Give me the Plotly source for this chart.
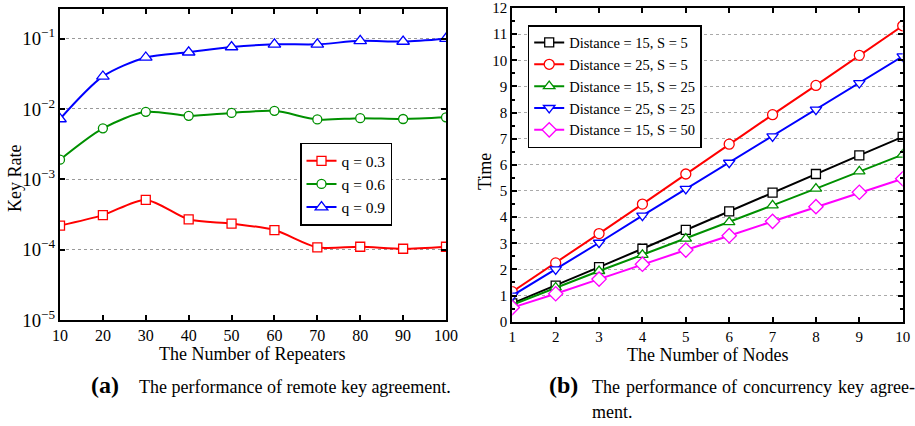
import plotly.graph_objects as go

# ---- Panel (a) data ----
repeaters = [10, 20, 30, 40, 50, 60, 70, 80, 90, 100]
rate_q03 = [2.2e-4, 3.1e-4, 5.1e-4, 2.7e-4, 2.35e-4, 1.9e-4, 1.08e-4, 1.1e-4, 1.03e-4, 1.1e-4]
rate_q06 = [1.9e-3, 5.3e-3, 9.1e-3, 8.0e-3, 8.8e-3, 9.4e-3, 7.1e-3, 7.4e-3, 7.2e-3, 7.6e-3]
rate_q09 = [7.2e-3, 0.029, 0.054, 0.064, 0.076, 0.083, 0.083, 0.093, 0.091, 0.1]
q_labels = ["q = 0.3", "q = 0.6", "q = 0.9"]

# ---- Panel (b) data ----
nodes = [1, 2, 3, 4, 5, 6, 7, 8, 9, 10]
time_d15_s5 = [0.70, 1.38, 2.09, 2.79, 3.51, 4.22, 4.94, 5.65, 6.36, 7.07]
time_d25_s5 = [1.15, 2.25, 3.37, 4.50, 5.65, 6.79, 7.92, 9.04, 10.19, 11.32]
time_d15_s25 = [0.65, 1.31, 1.94, 2.56, 3.18, 3.81, 4.45, 5.09, 5.75, 6.39]
time_d25_s25 = [1.00, 2.00, 3.02, 4.06, 5.08, 6.08, 7.09, 8.11, 9.13, 10.15]
time_d15_s50 = [0.54, 1.07, 1.63, 2.20, 2.74, 3.29, 3.84, 4.40, 4.95, 5.47]
b_labels = ["Distance = 15, S = 5", "Distance = 25, S = 5", "Distance = 15, S = 25",
            "Distance = 25, S = 25", "Distance = 15, S = 50"]

FONT = "Liberation Serif, Times New Roman, serif"
W, H = 915, 426
GREEN = "#009000"

fig = go.Figure()

def mk(symbol, color, size):
    return dict(symbol=symbol, size=size, color="white", line=dict(color=color, width=1.3))

# panel (a)
for ys, name, sym, col, sz in [
    (rate_q03, q_labels[0], "square", "#ff0000", 9),
    (rate_q06, q_labels[1], "circle", GREEN, 9),
    (rate_q09, q_labels[2], "triangle-up", "#0000ff", 11),
]:
    fig.add_trace(go.Scatter(x=repeaters, y=ys, name=name, mode="lines+markers",
                             line=dict(color=col, width=2, shape="spline", smoothing=0.8),
                             marker=mk(sym, col, sz), xaxis="x", yaxis="y", legend="legend"))

# panel (b)
for ys, name, sym, col, sz in [
    (time_d15_s5, b_labels[0], "square", "#000000", 9),
    (time_d25_s5, b_labels[1], "circle", "#ff0000", 10),
    (time_d15_s25, b_labels[2], "triangle-up", GREEN, 10),
    (time_d25_s25, b_labels[3], "triangle-down", "#0000ff", 10),
    (time_d15_s50, b_labels[4], "diamond", "#ff00ff", 11),
]:
    fig.add_trace(go.Scatter(x=nodes, y=ys, name=name, mode="lines+markers",
                             line=dict(color=col, width=2),
                             marker=mk(sym, col, sz), xaxis="x2", yaxis="y2", legend="legend2"))

def axis_common(size):
    return dict(showline=True, linecolor="black", linewidth=2, mirror="ticks",
                ticks="inside", ticklen=5, tickwidth=2, tickcolor="black",
                tickfont=dict(family=FONT, size=size, color="black"),
                zeroline=False, automargin=False)

fig.update_layout(
    width=W, height=H,
    margin=dict(l=0, r=0, t=0, b=0),
    paper_bgcolor="white", plot_bgcolor="white",
    font=dict(family=FONT, color="black"),
    xaxis=dict(domain=[60 / W, 446 / W], range=[10, 100], dtick=10, tick0=10,
               showgrid=False, anchor="y", **axis_common(16)),
    yaxis=dict(domain=[1 - 320 / H, 1 - 9.3 / H], type="log", range=[-5, -0.583], dtick=1,
               exponentformat="power", showgrid=True, gridcolor="#999999", griddash="dot",
               gridwidth=1, anchor="x", **axis_common(15)),
    xaxis2=dict(domain=[512.3 / W, 902.7 / W], range=[1, 10], dtick=1, tick0=1,
                showgrid=False, anchor="y2", **axis_common(15)),
    yaxis2=dict(domain=[1 - 321.7 / H, 1 - 8 / H], range=[0, 12], dtick=1,
                showgrid=True, gridcolor="#aaaaaa", griddash="dot", gridwidth=1, anchor="x2",
                minor=dict(dtick=0.5, ticks="inside", ticklen=3, tickwidth=1.5, tickcolor="black",
                           showgrid=False),
                **axis_common(15)),
    legend=dict(x=300 / W, y=1 - 142.7 / H, xanchor="left", yanchor="top",
                bgcolor="white", bordercolor="black", borderwidth=1.5,
                font=dict(family=FONT, size=15.5, color="black"), tracegroupgap=0),
    legend2=dict(x=527.7 / W, y=1 - 25 / H, xanchor="left", yanchor="top",
                 bgcolor="white", bordercolor="black", borderwidth=1.5,
                 font=dict(family=FONT, size=14.5, color="black"), tracegroupgap=0),
)

# axis titles and captions (text, x_px, y_px, size, angle)
texts = [
    ("The Number of Repeaters", 252, 354, 18, 0, "center"),
    ("Key Rate", 15, 179, 18, -90, "center"),
    ("The Number of Nodes", 707, 355, 18, 0, "center"),
    ("Time", 485, 172, 18, -90, "center"),
    ("<b>(a)</b>", 89, 385, 24, 0, "left"),
    ("The performance of remote key agreement.", 137, 387, 18, 0, "left"),
    ("<b>(b)</b>", 547, 385, 24, 0, "left"),
    ("The", 590, 387, 18, 0, "left"),
    ("performance", 624, 387, 18, 0, "left"),
    ("of", 720, 387, 18, 0, "left"),
    ("concurrency", 741.4, 387, 18, 0, "left"),
    ("key", 835.5, 387, 18, 0, "left"),
    ("agree-", 867.7, 387, 18, 0, "left"),
    ("ment.", 590, 412, 18, 0, "left"),
]
for t, x, y, s, ang, xa in texts:
    fig.add_annotation(text=t, x=x / W, y=1 - y / H, xref="paper", yref="paper",
                       xanchor=xa, yanchor="middle", showarrow=False, textangle=ang,
                       font=dict(family=FONT, size=s, color="black"))

fig.write_html("out.html", config={"displayModeBar": False},
               post_script="document.body.style.margin='0';document.body.style.padding='0';"
                           "document.body.style.overflow='hidden';")
